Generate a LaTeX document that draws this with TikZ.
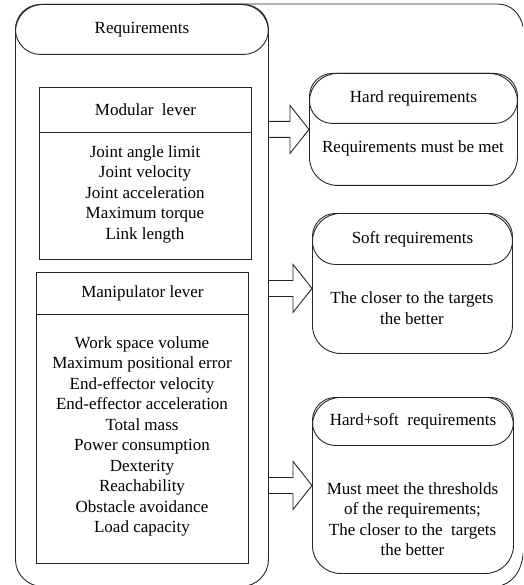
\documentclass[tikz,border=0pt]{standalone}
\usepackage{fontspec}
\setmainfont{Liberation Serif}
\usetikzlibrary{calc}

\tikzset{
  frame/.style={draw=black!85, line width=0.9pt},
  panel/.style={frame, fill=white, rounded corners=28pt, inner sep=0pt, anchor=north west},
  headbox/.style={frame, rounded corners=23pt, inner sep=0pt, anchor=north west,
    font=\fontsize{17}{20.5}\selectfont},
  listbox/.style={frame, fill=white, inner sep=0pt, anchor=north west,
    font=\fontsize{17}{20.5}\selectfont},
  body/.style={align=center, inner sep=0pt, font=\fontsize{17}{20.5}\selectfont},
  arrowline/.style={frame, line join=miter},
}

% hollow block arrow: shaft starts at #1, tip lies on the x of #2
\newcommand\blockarrow[2]{%
  \draw[arrowline] let \p1=(#1), \p2=(#2) in
    (\x1,\y1+8pt) -- (\x2-19pt,\y1+8pt) -- (\x2-19pt,\y1+24pt) -- (\x2,\y1)
    -- (\x2-19pt,\y1-24pt) -- (\x2-19pt,\y1-8pt) -- (\x1,\y1-8pt);}

\begin{document}
\begin{tikzpicture}[x=1pt,y=-1pt]
\useasboundingbox (0,0) rectangle (523,585);
\clip (0,0) rectangle (523,585);

% surrounding frame: only its top edge and right-hand corners fall inside the page
\draw[frame] (200,4) -- (497,4) .. controls (511,4) and (520,13) .. (523.2,27);
\draw[frame] (523.2,553) .. controls (522,571) and (512,585) .. (496,586.5);

% left column: requirements
\node[panel, rounded corners=27pt, minimum width=253pt, minimum height=582pt] (req) at (15,4) {};
\node[headbox, rounded corners=25pt, minimum width=253pt, minimum height=50pt] (reqcap) at (req.north west) {Requirements};

% modular level
\node[listbox, minimum width=212pt, minimum height=172pt] (mod) at (39,87) {};
\node[listbox, minimum width=212pt, minimum height=45pt] (modcap) at (mod.north west) {Modular~ lever};
\node[body] (modlist) at (145,194) {Joint angle limit\\Joint velocity\\Joint acceleration\\Maximum torque\\Link length};

% manipulator level
\node[listbox, minimum width=212pt, minimum height=291pt] (man) at (36,272) {};
\node[listbox, minimum width=212pt, minimum height=42pt] (mancap) at (man.north west) {Manipulator lever};
\node[body] (manlist) at (142,436.5) {Work space volume\\Maximum positional error\\End-effector velocity\\End-effector acceleration\\Total mass\\Power consumption\\Dexterity\\Reachability\\Obstacle avoidance\\Load capacity};

% hard requirements
\node[panel, minimum width=208pt, minimum height=112pt] (hard) at (309,73) {};
\node[headbox, minimum width=208pt, minimum height=50pt] (hardcap) at (hard.north west) {Hard requirements};
\node[body] (hardtxt) at (413,148) {Requirements must be met};

% soft requirements
\node[panel, minimum width=200pt, minimum height=140pt] (soft) at (312,213) {};
\node[headbox, minimum width=200pt, minimum height=51pt] (softcap) at (soft.north west) {Soft requirements};
\node[body] (softtxt) at (412,308) {The closer to the targets\\the better};

% combined requirements
\node[panel, minimum width=201pt, minimum height=176pt] (both) at (312,397) {};
\node[headbox, minimum width=201pt, minimum height=48pt] (bothcap) at (both.north west) {Hard+soft~ requirements};
\node[body] (bothtxt) at (412.5,519) {Must meet the thresholds\\of the requirements;\\The closer to the~ targets\\the better};

% arrows from the requirement column
\blockarrow{req.east |- hard.west}{hard.west}
\blockarrow{$(req.east |- soft.west)+(0,5)$}{soft.west}
\blockarrow{req.east |- both.west}{both.west}
\end{tikzpicture}
\end{document}
